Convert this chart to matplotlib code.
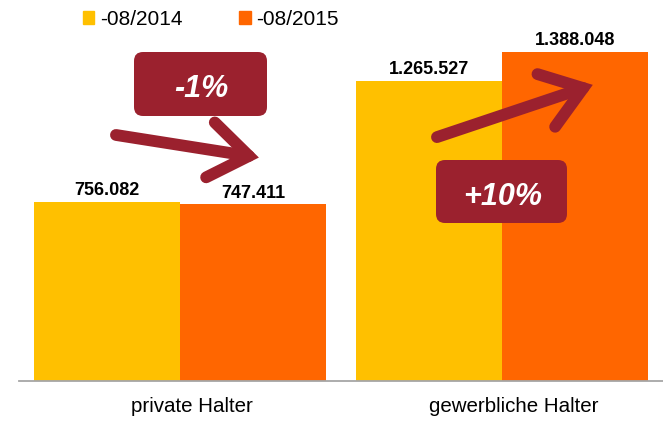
import matplotlib
matplotlib.use("Agg")
import matplotlib.pyplot as plt
from matplotlib.patches import FancyBboxPatch, Patch
from matplotlib.transforms import ScaledTranslation
import numpy as np

plt.rcParams['font.family'] = ['Liberation Sans', 'DejaVu Sans']

categories = ['private Halter', 'gewerbliche Halter']
series_names = ['-08/2014', '-08/2015']
values_2014 = [756082, 1265527]
values_2015 = [747411, 1388048]
changes = ['-1%', '+10%']

col_2014 = '#FFC000'
col_2015 = '#FF6600'
col_badge = '#9B212E'

fig = plt.figure(figsize=(6.63, 4.22), dpi=100)
ax = fig.add_axes([0.0287, 0.0964, 0.9713, 0.9007])

x = np.arange(len(categories))
w = 0.454
bars1 = ax.bar(x - w / 2, values_2014, width=w, color=col_2014, zorder=2)
bars2 = ax.bar(x + w / 2, values_2015, width=w, color=col_2015, zorder=2)

ax.set_xlim(-0.5, 1.5)
ax.set_ylim(0, 1.6e6)

# value labels, German thousands separator
for bars in (bars1, bars2):
    for b in bars:
        v = int(b.get_height())
        ax.annotate(f"{v:,}".replace(",", "."),
                    xy=(b.get_x() + b.get_width() / 2, v),
                    xytext=(0, 4.5), textcoords='offset points',
                    ha='center', va='baseline', fontsize=13, fontweight='bold',
                    color='black', zorder=5)

# axis styling
for s in ['top', 'right', 'left']:
    ax.spines[s].set_visible(False)
ax.spines['bottom'].set_color('#A6A6A6')
ax.spines['bottom'].set_linewidth(1.3)
ax.set_yticks([])
ax.set_xticks(x)
ax.set_xticklabels(categories, fontsize=14.8)
ax.tick_params(axis='x', length=0, pad=11)
shift = ScaledTranslation(0.12, 0, fig.dpi_scale_trans)
for lab in ax.get_xticklabels():
    lab.set_transform(lab.get_transform() + shift)

# legend
handles = [Patch(color=col_2014, label=series_names[0]),
           Patch(color=col_2015, label=series_names[1])]
fig.legend(handles=handles, loc='upper left', ncol=2, frameon=False,
           bbox_to_anchor=(0.83, 4.12), bbox_transform=fig.dpi_scale_trans,
           fontsize=15, handlelength=0.55, handleheight=0.55,
           handletextpad=0.25, columnspacing=2.75, borderpad=0, borderaxespad=0)

# trend arrows
arrow_style = "->,head_length=1.4,head_width=1.0"
for tail, tip in [((-0.199, 1037000), (0.245, 942000)),
                  ((0.798, 1028000), (1.282, 1248000))]:
    ax.annotate("", xy=tip, xytext=tail,
                arrowprops=dict(arrowstyle=arrow_style, lw=8.5, color=col_badge,
                                shrinkA=0, shrinkB=0, capstyle='round',
                                joinstyle='miter', mutation_scale=20),
                zorder=4)

# change badges (inch coordinates)
badge_boxes = [(1.34, 3.06, 1.33, 0.64), (4.36, 1.99, 1.31, 0.63)]
badge_text_pos = [(2.015, 3.25), (5.025, 2.17)]
for (bx, by, bw, bh), (tx, ty), txt in zip(badge_boxes, badge_text_pos, changes):
    box = FancyBboxPatch((bx, by), bw, bh,
                         boxstyle="round,pad=0,rounding_size=0.09",
                         transform=fig.dpi_scale_trans, facecolor=col_badge,
                         edgecolor='none', zorder=6)
    fig.patches.append(box)
    fig.text(tx, ty, txt, transform=fig.dpi_scale_trans, ha='center',
             va='baseline', fontsize=22, fontweight='bold', fontstyle='italic',
             color='white', zorder=7)

fig.savefig('out.png', dpi=100)
